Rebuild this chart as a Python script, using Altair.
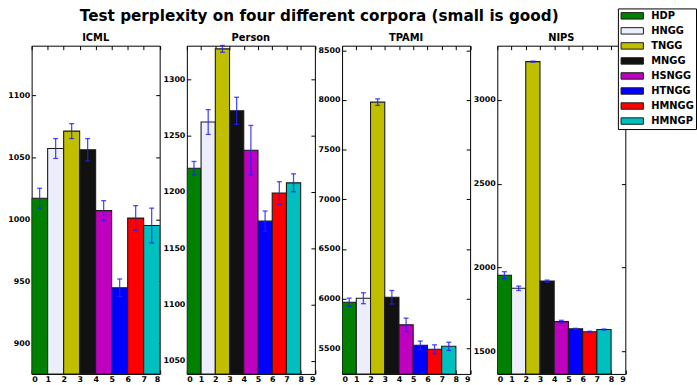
import altair as alt
import pandas as pd

# Models compared, in plotting order, with their bar colours
models = ["HDP", "HNGG", "TNGG", "MNGG", "HSNGG", "HTNGG", "HMNGG", "HMNGP"]
colors = ["#008000", "#ECEEFC", "#BFBF00", "#111111", "#BF00BF", "#0000FF", "#FF0000", "#00BFBF"]

# Test perplexity (mean) and error (half-width) per corpus
icml_mean = [1017, 1057, 1071, 1056, 1007, 945, 1001, 995]
icml_err = [8, 8, 6, 9, 8, 7, 10, 14]
person_mean = [1221, 1262, 1327, 1272, 1237, 1174, 1199, 1208]
person_err = [6, 11, 3, 12, 22, 9, 10, 8]
tpami_mean = [5964, 6004, 7978, 6014, 5736, 5530, 5490, 5520]
tpami_err = [41, 55, 33, 68, 68, 43, 45, 41]
nips_mean = [1955, 1877, 3229, 1920, 1678, 1635, 1618, 1631]
nips_err = [21, 13, 3, 6, 8, 3, 3, 3]

# Axis ranges and ticks per corpus
icml_domain = [875.6, 1139.7]
person_domain = [1038.3, 1329.8]
tpami_domain = [5242, 8546]
nips_domain = [1366, 3324]
icml_ticks = [900, 950, 1000, 1050, 1100]
person_ticks = [1050, 1100, 1150, 1200, 1250, 1300]
tpami_ticks = [5500, 6000, 6500, 7000, 7500, 8000, 8500]
nips_ticks = [1500, 2000, 2500, 3000]

W, H = 129.5, 332
FONT = "DejaVu Sans"

color_scale = alt.Scale(domain=models, range=colors)
# wide flat rectangle for legend swatches
swatch = "M-0.86,-0.65L3.66,-0.65L3.66,0.65L-0.86,0.65Z"


def panel(name, means, errs, domain, ticks, xmax):
    df = pd.DataFrame({
        "model": models,
        "x0": list(range(len(models))),
        "mean": means,
        "err": errs,
    })
    base = alt.Chart(df).transform_calculate(
        x1="datum.x0 + 1",
        xc="datum.x0 + 0.5",
        lo="datum.mean - datum.err",
        hi="datum.mean + datum.err",
    )
    xs = alt.Scale(domain=[0, xmax], nice=False, zero=False)
    ys = alt.Scale(domain=domain, nice=False, zero=False)
    xvals = list(range(xmax + 1))

    bars = base.mark_rect(stroke="#1a1a1a", strokeWidth=1.1, clip=True).encode(
        x=alt.X("x0:Q", scale=xs, title=None,
                axis=alt.Axis(orient="bottom", values=xvals, format="d", offset=-4,
                              tickSize=4, domain=False, labelPadding=2, grid=False)),
        x2="x1:Q",
        y=alt.Y("mean:Q", scale=ys, title=None,
                axis=alt.Axis(orient="left", values=ticks, format="d", offset=-4,
                              tickSize=4, domain=False, labelPadding=2, grid=False)),
        y2=alt.value(H),
        fill=alt.Fill("model:N", scale=color_scale, sort=models,
                      legend=alt.Legend(title=None, orient="none", legendX=593, legendY=-37.7,
                                        symbolType=swatch, symbolSize=100,
                                        symbolStrokeColor="#1a1a1a", symbolStrokeWidth=1,
                                        labelFont=FONT, labelFontSize=10, labelFontWeight="bold",
                                        labelColor="#000000",
                                        labelOffset=20.7, rowPadding=4.2, padding=2,
                                        strokeColor="#000000", fillColor="#ffffff")),
    )
    rules = base.mark_rule(color="#1f1fff", opacity=0.8, strokeWidth=1.3).encode(
        x=alt.X("xc:Q", scale=xs, title=None,
                axis=alt.Axis(orient="top", values=xvals, labels=False, offset=-4,
                              tickSize=4, domain=False, grid=False)),
        y=alt.Y("lo:Q", scale=ys, title=None,
                axis=alt.Axis(orient="right", values=ticks, labels=False, offset=-4,
                              tickSize=4, domain=False, grid=False)),
        y2="hi:Q",
    )
    cap_lo = base.mark_tick(color="#1f1fff", opacity=0.8, size=5, thickness=1.3,
                            orient="horizontal").encode(
        x=alt.X("xc:Q", scale=xs, axis=None),
        y=alt.Y("lo:Q", scale=ys, axis=None),
    )
    cap_hi = base.mark_tick(color="#1f1fff", opacity=0.8, size=5, thickness=1.3,
                            orient="horizontal").encode(
        x=alt.X("xc:Q", scale=xs, axis=None),
        y=alt.Y("hi:Q", scale=ys, axis=None),
    )
    return alt.layer(bars, rules, cap_lo, cap_hi).resolve_axis(
        x="independent", y="independent"
    ).properties(
        width=W, height=H,
        title=alt.TitleParams(name, font=FONT, fontSize=10, fontWeight="bold",
                              offset=2, color="#000000"),
    )


chart = alt.hconcat(
    panel("ICML", icml_mean, icml_err, icml_domain, icml_ticks, 8),
    panel("Person", person_mean, person_err, person_domain, person_ticks, 9),
    panel("TPAMI", tpami_mean, tpami_err, tpami_domain, tpami_ticks, 9),
    panel("NIPS", nips_mean, nips_err, nips_domain, nips_ticks, 9),
    spacing=27,
    bounds="flush",
).properties(
    title=alt.TitleParams("Test perplexity on four different corpora (small is good)",
                          font=FONT, fontSize=15.4, fontWeight="bold", anchor="middle",
                          offset=6, dx=-33, dy=23, color="#000000"),
    padding={"left": 7, "top": 5, "right": 0, "bottom": 2},
).configure_view(
    stroke="#000000", strokeWidth=1
).configure_axis(
    labelFont=FONT, labelFontSize=8, labelFontWeight="bold", labelColor="#000000",
    tickColor="#000000", tickWidth=1
).configure_concat(spacing=27)

chart.save("out.html", embed_options={"renderer": "svg", "actions": False})
